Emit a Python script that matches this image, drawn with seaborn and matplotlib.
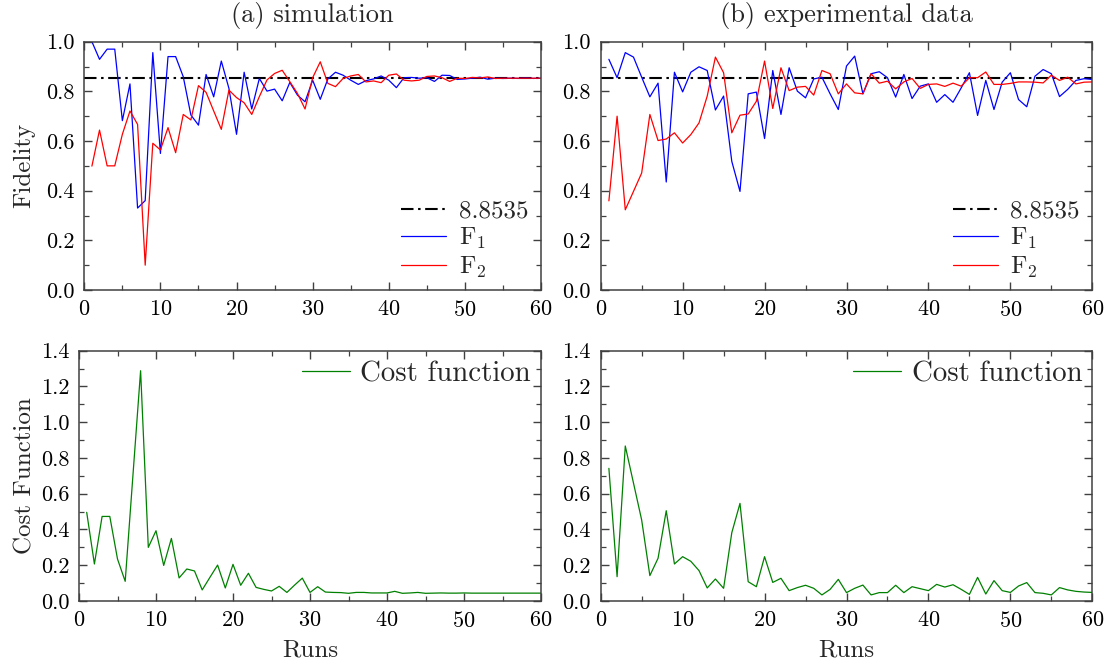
import numpy as np
import pandas as pd
import matplotlib
matplotlib.use("Agg")
import matplotlib.pyplot as plt
from matplotlib.ticker import MultipleLocator
import seaborn as sns

# ---------------- data ----------------
runs = np.arange(1, 61)
target = 0.8535
target_label = "8.8535"

sim_f1 = [1.000, 0.929, 0.970, 0.970, 0.682, 0.830, 0.330, 0.360, 0.956, 0.550,
          0.940, 0.940, 0.859, 0.705, 0.664, 0.868, 0.778, 0.922, 0.812, 0.627,
          0.877, 0.729, 0.852, 0.801, 0.809, 0.762, 0.836, 0.785, 0.758, 0.845,
          0.768, 0.850, 0.877, 0.865, 0.845, 0.828, 0.843, 0.850, 0.862, 0.845,
          0.815, 0.855, 0.856, 0.853, 0.855, 0.840, 0.865, 0.864, 0.848, 0.850,
          0.853, 0.857, 0.849, 0.853, 0.852, 0.853, 0.852, 0.854, 0.852, 0.853]
sim_f2 = [0.499, 0.644, 0.500, 0.500, 0.627, 0.721, 0.667, 0.100, 0.591, 0.564,
          0.654, 0.553, 0.707, 0.685, 0.823, 0.796, 0.721, 0.647, 0.805, 0.775,
          0.754, 0.707, 0.779, 0.846, 0.872, 0.885, 0.839, 0.792, 0.729, 0.855,
          0.919, 0.832, 0.819, 0.852, 0.862, 0.868, 0.838, 0.842, 0.835, 0.865,
          0.870, 0.845, 0.842, 0.845, 0.860, 0.862, 0.855, 0.840, 0.853, 0.852,
          0.856, 0.854, 0.858, 0.852, 0.853, 0.853, 0.853, 0.853, 0.853, 0.853]
sim_cost = [0.496, 0.207, 0.473, 0.473, 0.235, 0.110, 0.700, 1.288, 0.300, 0.393,
            0.199, 0.350, 0.129, 0.179, 0.168, 0.062, 0.132, 0.201, 0.073, 0.205,
            0.088, 0.155, 0.076, 0.065, 0.056, 0.082, 0.048, 0.089, 0.128, 0.048,
            0.080, 0.050, 0.048, 0.047, 0.043, 0.048, 0.048, 0.045, 0.045, 0.045,
            0.054, 0.043, 0.045, 0.048, 0.043, 0.044, 0.045, 0.044, 0.044, 0.045,
            0.044, 0.044, 0.044, 0.044, 0.044, 0.044, 0.044, 0.044, 0.044, 0.044]

exp_f1 = [0.929, 0.855, 0.956, 0.938, 0.857, 0.778, 0.833, 0.435, 0.877, 0.798,
          0.877, 0.899, 0.884, 0.725, 0.781, 0.518, 0.397, 0.790, 0.797, 0.610,
          0.884, 0.707, 0.895, 0.801, 0.774, 0.850, 0.857, 0.790, 0.727, 0.902,
          0.942, 0.790, 0.871, 0.879, 0.855, 0.777, 0.868, 0.771, 0.821, 0.830,
          0.756, 0.787, 0.756, 0.814, 0.875, 0.703, 0.844, 0.727, 0.837, 0.875,
          0.767, 0.738, 0.861, 0.888, 0.871, 0.779, 0.808, 0.844, 0.851, 0.848]
exp_f2 = [0.359, 0.700, 0.323, 0.397, 0.471, 0.707, 0.602, 0.608, 0.633, 0.592,
          0.626, 0.673, 0.781, 0.938, 0.875, 0.633, 0.704, 0.709, 0.760, 0.922,
          0.731, 0.895, 0.803, 0.817, 0.820, 0.785, 0.884, 0.871, 0.790, 0.830,
          0.794, 0.790, 0.871, 0.833, 0.841, 0.810, 0.838, 0.852, 0.812, 0.828,
          0.830, 0.820, 0.833, 0.821, 0.855, 0.855, 0.878, 0.828, 0.828, 0.832,
          0.838, 0.838, 0.837, 0.834, 0.865, 0.844, 0.857, 0.830, 0.837, 0.838]
exp_cost = [0.742, 0.136, 0.867, 0.660, 0.453, 0.142, 0.239, 0.505, 0.207, 0.248,
            0.222, 0.170, 0.073, 0.123, 0.071, 0.382, 0.546, 0.108, 0.080, 0.248,
            0.104, 0.127, 0.058, 0.075, 0.088, 0.071, 0.034, 0.065, 0.121, 0.047,
            0.071, 0.089, 0.034, 0.047, 0.047, 0.088, 0.047, 0.080, 0.069, 0.058,
            0.093, 0.078, 0.091, 0.065, 0.037, 0.132, 0.039, 0.114, 0.058, 0.048,
            0.084, 0.103, 0.047, 0.043, 0.034, 0.075, 0.062, 0.054, 0.050, 0.048]

titles = ["(a) simulation", "(b) experimental data"]

# ---------------- style ----------------
sns.set_theme(style="ticks")
plt.rcParams.update({
    "font.family": "serif",
    "font.serif": ["cmr10", "DejaVu Serif"],
    "mathtext.fontset": "cm",
    "axes.formatter.use_mathtext": True,
    "axes.edgecolor": "0.25",
    "axes.linewidth": 1.1,
    "xtick.color": "0.25",
    "ytick.color": "0.25",
    "xtick.labelcolor": "black",
    "ytick.labelcolor": "black",
})

W, H = 1115, 666
fig = plt.figure(figsize=(W / 100, H / 100), dpi=100)


def add_axes_px(left, right, top, bottom):
    return fig.add_axes([left / W, 1 - bottom / H, (right - left) / W, (bottom - top) / H])


ax_tl = add_axes_px(84.3, 541.0, 41.7, 290.0)
ax_tr = add_axes_px(600.7, 1092.3, 41.7, 290.0)
ax_bl = add_axes_px(79.0, 541.0, 350.7, 601.0)
ax_br = add_axes_px(600.7, 1092.3, 350.7, 601.0)

BLUE, RED, GREEN = "#0000ff", "#ff0000", "#008000"
LW = 0.9
TICK_FS, LABEL_FS, TITLE_FS = 16, 18, 19
FID_LEGEND_FS, COST_LEGEND_FS = 18, 20.8


def style_axes(ax, ymax, ymajor):
    ax.set_xlim(0, 60)
    ax.set_ylim(0, ymax)
    ax.xaxis.set_major_locator(MultipleLocator(10))
    ax.xaxis.set_minor_locator(MultipleLocator(5))
    ax.yaxis.set_major_locator(MultipleLocator(ymajor))
    ax.yaxis.set_minor_locator(MultipleLocator(0.1))
    ax.yaxis.set_major_formatter(plt.FormatStrFormatter("%.1f"))
    ax.tick_params(which="both", direction="in", top=True, right=True,
                   labelsize=TICK_FS, pad=7)
    ax.tick_params(which="major", length=6, width=1.0)
    ax.tick_params(which="minor", length=3.5, width=0.9)
    for s in ax.spines.values():
        s.set_visible(True)


for ax, f1, f2, title in [(ax_tl, sim_f1, sim_f2, titles[0]),
                          (ax_tr, exp_f1, exp_f2, titles[1])]:
    ax.axhline(target, color="black", lw=1.5, dashes=(6, 2.2, 1.2, 2.2), label=target_label)
    df = pd.DataFrame({"run": runs, "F1": f1, "F2": f2})
    sns.lineplot(data=df, x="run", y="F1", ax=ax, color=BLUE, lw=LW, label=r"$\mathrm{F}_1$")
    sns.lineplot(data=df, x="run", y="F2", ax=ax, color=RED, lw=LW, label=r"$\mathrm{F}_2$")
    style_axes(ax, 1.0, 0.2)
    ax.set_xlabel("")
    ax.set_ylabel("")
    ax.set_title(title, fontsize=TITLE_FS, pad=14)
    ax.legend(loc="lower right", bbox_to_anchor=(1.0, -0.012), frameon=False,
              fontsize=FID_LEGEND_FS, handlelength=1.8, handletextpad=0.5,
              labelspacing=0.15, borderaxespad=0.1)

for ax, cost in [(ax_bl, sim_cost), (ax_br, exp_cost)]:
    df = pd.DataFrame({"run": runs, "cost": cost})
    sns.lineplot(data=df, x="run", y="cost", ax=ax, color=GREEN, lw=LW, label="Cost function")
    style_axes(ax, 1.4, 0.2)
    ax.set_ylabel("")
    ax.set_xlabel("Runs", fontsize=LABEL_FS, labelpad=6)
    ax.legend(loc="upper right", frameon=False, fontsize=COST_LEGEND_FS, handlelength=1.66,
              handletextpad=0.35, borderaxespad=0.05, borderpad=0.3)

ax_tl.set_ylabel("Fidelity", fontsize=LABEL_FS)
ax_tl.yaxis.set_label_coords(-0.108, 0.5)
ax_bl.set_ylabel("Cost Function", fontsize=LABEL_FS)
ax_bl.yaxis.set_label_coords(-0.093, 0.5)

fig.savefig("out.png", dpi=100)
